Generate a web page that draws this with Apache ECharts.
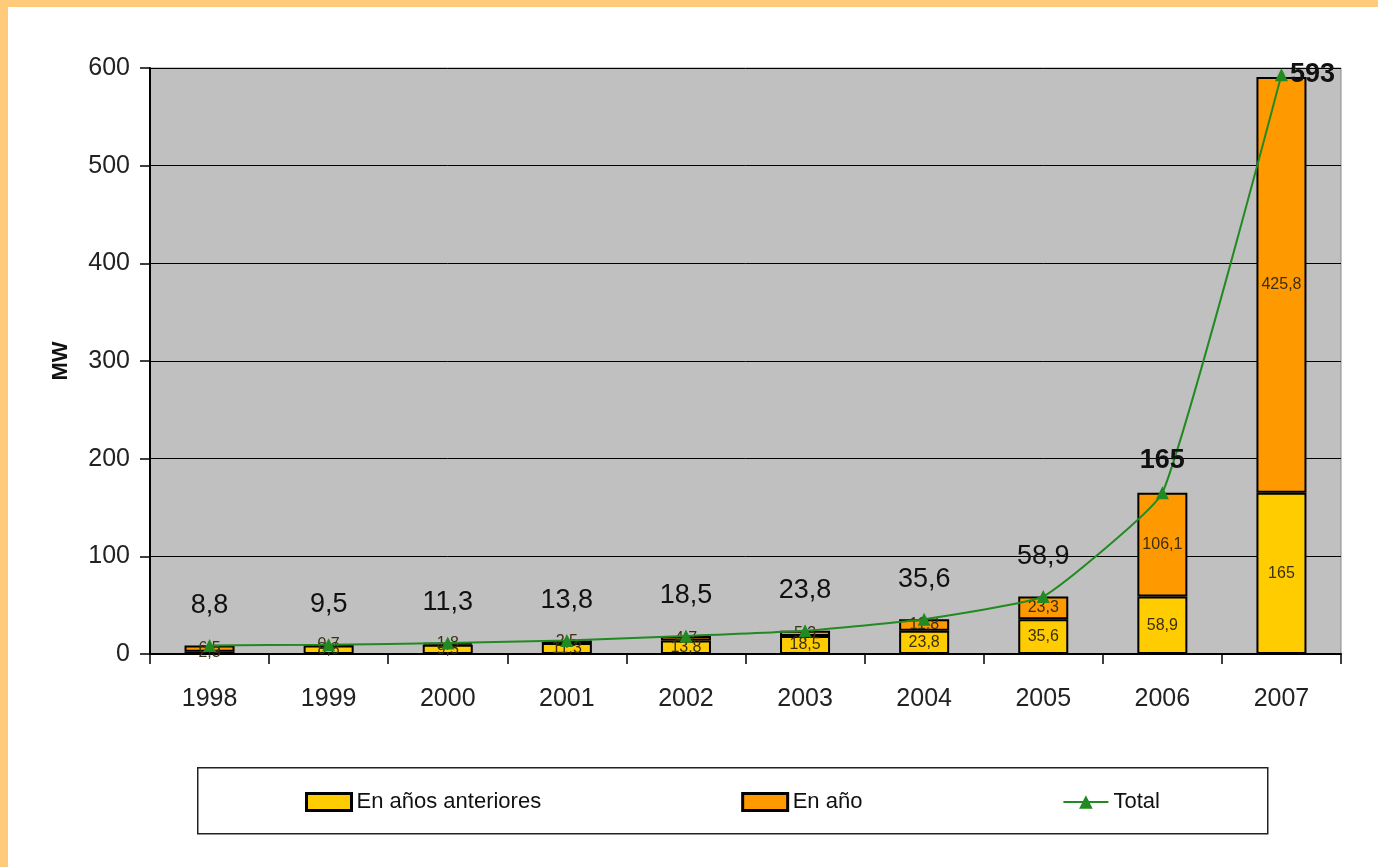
<!DOCTYPE html>
<html>
<head>
<meta charset="utf-8">
<script src="https://cdn.jsdelivr.net/npm/echarts@6/dist/echarts.min.js"></script>
<style>
  html, body { margin: 0; padding: 0; background: #fff; }
  body { width: 1378px; height: 867px; position: relative; overflow: hidden; }
  #frame { position: absolute; left: 0; top: 0; width: 1378px; height: 867px;
           box-sizing: border-box; border-top: 7px solid #FFCA7A; border-left: 8px solid #FFCA7A; }
  #chart { position: absolute; left: 0; top: 0; width: 1378px; height: 867px; }
</style>
</head>
<body>
<div id="frame"></div>
<div id="chart"></div>
<script>
var years = ['1998', '1999', '2000', '2001', '2002', '2003', '2004', '2005', '2006', '2007'];
var prevYears = [2.3, 8.8, 9.5, 11.3, 13.8, 18.5, 23.8, 35.6, 58.9, 165];
var inYear = [6.5, 0.7, 1.8, 2.5, 4.7, 5.3, 11.8, 23.3, 106.1, 425.8];
var totals = [8.8, 9.5, 11.3, 13.8, 18.5, 23.8, 35.6, 58.9, 165, 593];

var font = "'Liberation Sans', Arial, sans-serif";
function comma(v) { return String(v).replace('.', ','); }

var chart = echarts.init(document.getElementById('chart'));

var option = {
    animation: false,
    textStyle: { fontFamily: font },
    grid: {
        left: 150, right: 37, top: 68, bottom: 213,
        show: true, backgroundColor: '#C0C0C0', borderColor: '#8a8a8a', borderWidth: 1
    },
    xAxis: {
        type: 'category',
        data: years,
        axisLine: { lineStyle: { color: '#000', width: 2 } },
        axisTick: { show: true, length: 10, lineStyle: { color: '#000', width: 1.5 } },
        axisLabel: { fontSize: 25, color: '#222', margin: 33, fontFamily: font }
    },
    yAxis: {
        type: 'value',
        min: 0, max: 600, interval: 100,
        name: 'MW',
        nameLocation: 'middle',
        nameGap: 78,
        nameRotate: 90,
        nameTextStyle: { fontSize: 22, fontWeight: 'bold', color: '#111', fontFamily: font },
        axisLine: { show: true, lineStyle: { color: '#000', width: 2 } },
        axisTick: { show: true, length: 10, lineStyle: { color: '#000', width: 1.5 } },
        axisLabel: { fontSize: 25, color: '#222', margin: 20, fontFamily: font },
        splitLine: { lineStyle: { color: '#000', width: 1 } }
    },
    legend: {
        left: 300,
        top: 786,
        itemGap: 200,
        itemWidth: 45,
        itemHeight: 17,
        textStyle: { fontSize: 22, color: '#111', fontFamily: font },
        data: [
            { name: 'En años anteriores', icon: 'rect', itemStyle: { borderColor: '#000', borderWidth: 3 } },
            { name: 'En año', icon: 'rect', itemStyle: { borderColor: '#000', borderWidth: 3 } },
            { name: 'Total' }
        ]
    },
    graphic: [{
        type: 'rect',
        left: 197, top: 767,
        shape: { width: 1070, height: 66 },
        style: { fill: '#fff', stroke: '#222', lineWidth: 1.5 },
        z: -1
    }],
    series: [
        {
            name: 'En años anteriores',
            type: 'bar',
            stack: 'mw',
            barWidth: '42%',
            data: prevYears,
            itemStyle: { color: '#FFCC00', borderColor: '#000', borderWidth: 2 },
            label: {
                show: true, position: 'inside', fontSize: 16, color: '#3b2f12',
                formatter: function (p) { return comma(p.value); }
            }
        },
        {
            name: 'En año',
            type: 'bar',
            stack: 'mw',
            data: inYear,
            itemStyle: { color: '#FF9900', borderColor: '#000', borderWidth: 2 },
            label: {
                show: true, position: 'inside', fontSize: 16, color: '#3b2f12',
                formatter: function (p) { return comma(p.value); }
            }
        },
        {
            name: 'Total',
            type: 'line',
            smooth: 0.12,
            data: totals.map(function (v, i) {
                var last = i === totals.length - 1;
                return {
                    value: v,
                    label: last ? { position: 'right', distance: 2, fontWeight: 'bold' } :
                        (i === 8 ? { fontWeight: 'bold', distance: 12 } : {})
                };
            }),
            symbol: 'triangle',
            symbolSize: 13,
            lineStyle: { color: '#218A21', width: 2 },
            itemStyle: { color: '#218A21' },
            label: {
                show: true, position: 'top', distance: 20, fontSize: 27, color: '#111',
                fontFamily: font,
                formatter: function (p) { return comma(p.value); }
            },
            z: 5
        }
    ]
};

chart.setOption(option);
</script>
</body>
</html>
